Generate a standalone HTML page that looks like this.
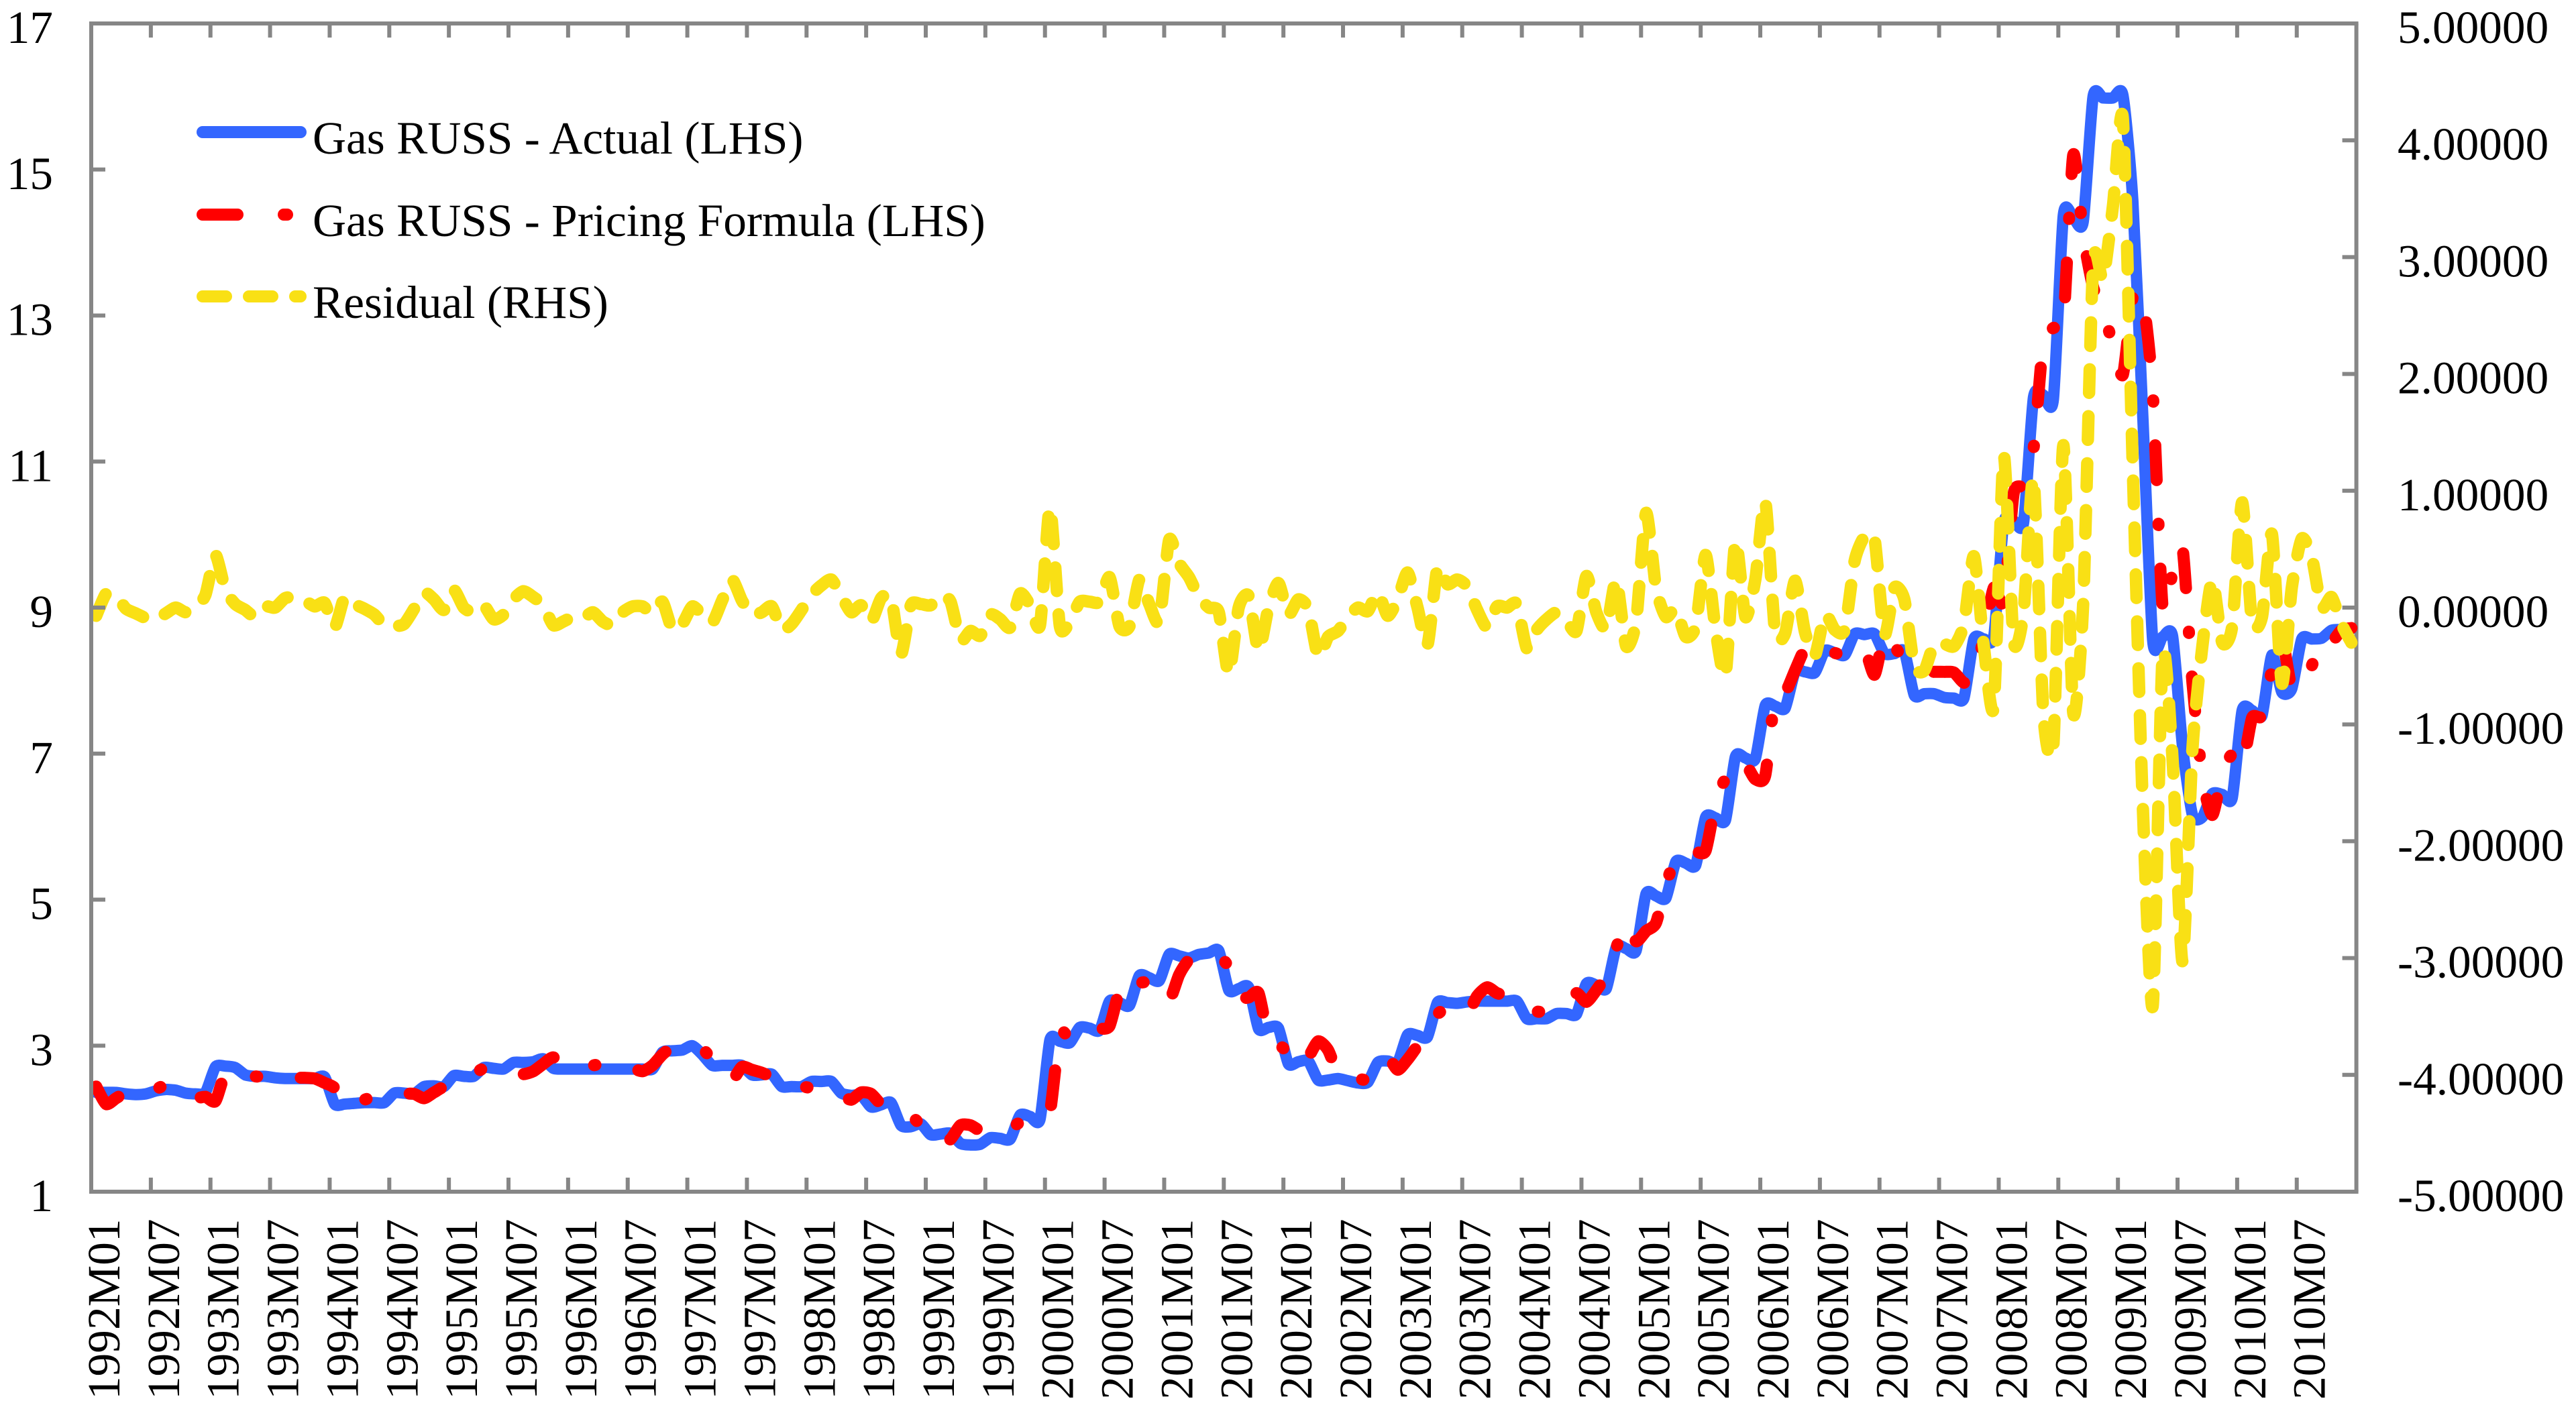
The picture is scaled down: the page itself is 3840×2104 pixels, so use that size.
<!DOCTYPE html>
<html lang="en">
<head>
<meta charset="utf-8">
<title>Gas RUSS - Actual vs Pricing Formula</title>
<style>
html,body{margin:0;padding:0;background:#fff;}
svg{display:block;}
text{font-family:"Liberation Serif",serif;font-size:69.3px;fill:#000;}
</style>
</head>
<body>
<svg id="chart" xmlns="http://www.w3.org/2000/svg" width="3840" height="2104" viewBox="0 0 3840 2104">
  <rect x="0" y="0" width="3840" height="2104" fill="#ffffff"/>
  <g id="right-axis"></g>
  <g id="series"></g>
  <g id="left-axis"></g>
  <g id="x-axis"></g>
  <g id="legend">
    <g>
      <line x1="302" y1="197" x2="448" y2="197" stroke="#3366ff" stroke-width="18" stroke-linecap="round"/>
      <text x="466" y="229">Gas RUSS - Actual (LHS)</text>
    </g>
    <g>
      <line x1="302" y1="320" x2="430" y2="320" stroke="#ff0000" stroke-width="18" stroke-linecap="round" stroke-dasharray="52 69 5 100"/>
      <text x="466" y="352">Gas RUSS - Pricing Formula (LHS)</text>
    </g>
    <g>
      <line x1="302" y1="442" x2="448" y2="442" stroke="#f9e015" stroke-width="18" stroke-linecap="round" stroke-dasharray="35 34"/>
      <text x="466" y="474">Residual (RHS)</text>
    </g>
  </g>
</svg>
<script>
const tickLabels = ["1992M01","1992M07","1993M01","1993M07","1994M01","1994M07","1995M01","1995M07","1996M01","1996M07","1997M01","1997M07","1998M01","1998M07","1999M01","1999M07","2000M01","2000M07","2001M01","2001M07","2002M01","2002M07","2003M01","2003M07","2004M01","2004M07","2005M01","2005M07","2006M01","2006M07","2007M01","2007M07","2008M01","2008M07","2009M01","2009M07","2010M01","2010M07"];
const leftTickLabels = ["1","3","5","7","9","11","13","15","17"];
const rightTickLabels = ["-5.00000","-4.00000","-3.00000","-2.00000","-1.00000","0.00000","1.00000","2.00000","3.00000","4.00000","5.00000"];

const actualSeries = [
2.36,2.36,2.36,2.34,2.33,2.34,2.38,2.40,2.39,2.35,2.34,2.36,
2.71,2.72,2.70,2.60,2.58,2.58,2.56,2.55,2.55,2.55,2.55,2.57,
2.20,2.20,2.21,2.22,2.22,2.22,2.35,2.35,2.34,2.44,2.45,2.44,
2.59,2.58,2.58,2.70,2.69,2.68,2.77,2.77,2.78,2.82,2.69,2.68,
2.68,2.68,2.68,2.68,2.68,2.68,2.68,2.68,2.68,2.91,2.93,2.94,
3.00,2.88,2.73,2.73,2.73,2.73,2.60,2.60,2.61,2.44,2.44,2.44,
2.51,2.51,2.51,2.35,2.32,2.32,2.16,2.19,2.22,1.91,1.89,1.93,
1.78,1.79,1.80,1.66,1.64,1.65,1.74,1.73,1.72,2.05,2.03,1.99,
3.08,3.06,3.04,3.25,3.24,3.21,3.61,3.59,3.55,3.96,3.93,3.89,
4.25,4.23,4.20,4.25,4.27,4.30,3.76,3.78,3.80,3.23,3.25,3.24,
2.75,2.78,2.79,2.53,2.53,2.55,2.52,2.49,2.50,2.77,2.79,2.77,
3.15,3.14,3.12,3.59,3.59,3.58,3.60,3.61,3.61,3.61,3.61,3.61,
3.37,3.37,3.37,3.44,3.44,3.43,3.85,3.83,3.78,4.35,4.33,4.30,
5.08,5.05,5.02,5.52,5.50,5.47,6.13,6.12,6.09,6.96,6.94,6.93,
7.66,7.65,7.62,8.12,8.12,8.11,8.41,8.38,8.35,8.64,8.63,8.64,
8.37,8.37,8.40,7.80,7.82,7.82,7.77,7.76,7.76,8.57,8.57,8.60,
10.16,10.19,10.16,11.88,11.91,11.85,14.37,14.34,14.28,16.00,15.98,15.98,
16.02,14.57,11.63,8.55,8.60,8.61,7.10,6.16,6.13,6.45,6.44,6.39,
7.59,7.59,7.52,8.35,7.84,7.89,8.57,8.57,8.58,8.69,8.70,8.71];

const formulaSeries = [
2.44,2.20,2.28,2.36,2.35,2.34,2.40,2.46,2.38,2.32,
2.28,2.30,2.24,2.63,2.65,2.61,2.58,2.57,2.57,2.56,
2.56,2.56,2.55,2.49,2.42,2.18,2.20,2.26,2.30,2.30,
2.32,2.34,2.34,2.28,2.36,2.44,2.49,2.53,2.61,2.69,
2.68,2.68,2.65,2.61,2.65,2.75,2.84,2.73,2.71,2.71,
2.73,2.75,2.73,2.71,2.69,2.65,2.73,2.88,2.98,2.96,
2.96,2.96,2.81,2.69,2.53,2.71,2.67,2.63,2.57,2.49,
2.44,2.44,2.42,2.40,2.38,2.32,2.26,2.36,2.34,2.20,
2.18,2.13,2.05,1.91,1.78,1.66,1.72,1.91,1.91,1.83,
1.78,1.83,1.87,1.95,1.99,2.03,2.09,3.17,3.08,3.10,
3.19,3.23,3.27,3.74,3.64,3.85,3.87,3.85,3.62,3.97,
4.18,4.24,4.26,4.24,4.07,3.68,3.66,3.72,3.10,3.02,
2.90,2.71,2.84,3.06,2.94,2.61,2.55,2.55,2.53,2.65,
2.84,2.67,2.81,3.00,3.23,3.43,3.52,3.52,3.43,3.68,
3.80,3.72,3.68,3.64,3.58,3.47,3.47,3.50,3.58,3.72,
3.60,3.76,3.97,4.34,4.68,4.43,4.57,4.68,5.20,5.58,
5.69,5.66,5.67,6.33,6.65,6.58,6.84,6.65,6.70,7.79,
7.83,8.14,8.44,8.54,8.47,8.38,8.35,8.35,8.44,8.08,
8.63,8.47,8.29,8.23,8.12,8.12,8.12,8.11,7.97,8.02,
8.60,9.27,9.08,10.56,10.68,11.17,12.65,12.83,12.90,15.20,
14.10,13.39,13.08,12.59,12.19,13.26,13.23,11.97,9.00,9.48,
9.82,7.97,6.67,6.16,6.73,6.99,6.82,7.49,7.52,8.14,
8.57,7.89,7.98,8.20,8.57,8.53,8.69,8.72];

const residualSeries = [
-0.07,0.12,0.10,-0.01,-0.05,-0.09,-0.10,-0.05,0.00,-0.04,
0.00,0.11,0.45,0.15,0.03,-0.02,-0.08,0.01,0.00,0.08,
0.09,0.06,0.01,0.04,-0.17,0.09,0.03,-0.01,-0.06,-0.15,
-0.16,-0.14,-0.01,0.13,0.07,-0.02,0.15,0.00,-0.04,0.02,
-0.10,-0.06,0.07,0.14,0.09,0.02,-0.15,-0.12,-0.08,-0.09,
-0.04,-0.12,-0.15,-0.04,0.01,0.01,-0.05,0.05,-0.19,-0.14,
0.01,-0.06,-0.13,0.06,0.24,0.06,-0.06,-0.04,0.01,-0.19,
-0.14,-0.02,0.11,0.19,0.24,0.10,-0.04,0.02,-0.12,0.08,
0.09,-0.40,0.02,0.03,0.02,0.11,0.05,-0.28,-0.20,-0.24,
-0.06,-0.10,-0.17,0.12,0.02,-0.15,0.86,-0.16,-0.12,0.05,
0.05,0.05,0.26,-0.16,-0.16,0.24,0.03,-0.12,0.58,0.38,
0.26,0.09,0.00,-0.04,-0.57,0.00,0.10,-0.37,0.00,0.21,
-0.06,0.07,-0.01,-0.42,-0.25,-0.20,-0.08,0.00,-0.03,0.13,
-0.07,0.07,0.30,0.00,-0.32,0.34,0.20,0.24,0.18,-0.02,
-0.17,0.01,0.00,0.03,-0.35,-0.19,-0.10,-0.04,-0.11,-0.20,
0.27,-0.04,-0.18,0.24,-0.33,-0.12,0.81,0.17,-0.08,-0.01,
-0.25,-0.16,0.45,-0.19,-0.58,0.57,-0.08,0.24,0.91,-0.22,
-0.22,0.23,-0.21,-0.41,-0.06,-0.19,-0.19,0.40,0.61,0.59,
-0.23,0.17,0.07,-0.50,-0.54,-0.31,-0.31,-0.33,-0.14,0.44,
-0.33,-0.85,1.30,-0.29,-0.04,1.11,-0.92,-1.18,1.39,-0.90,
0.03,2.94,2.81,3.44,4.18,1.18,-1.69,-3.41,-0.40,-1.30,
-3.03,-1.21,-0.33,0.24,-0.30,-0.16,0.90,-0.13,-0.08,0.63,
-0.65,0.17,0.59,0.44,0.00,0.09,-0.14,-0.30];

const svgNS = "http://www.w3.org/2000/svg";
const plotLeft = 136, plotRight = 3512.6, plotTop = 35, plotBottom = 1777;
const monthWidth = (plotRight - plotLeft) / 228;
const monthsPerTick = 6;
const smoothing = 0.11;

function xAt(i){ return plotLeft + (i + 0.5) * monthWidth; }
function xEdge(i){ return plotLeft + i * monthWidth; }
function yLeft(v){ return plotBottom - (v - 1) / 16 * (plotBottom - plotTop); }
function yRight(v){ return plotBottom - (v + 5) / 10 * (plotBottom - plotTop); }

function make(tag, attrs){
  const el = document.createElementNS(svgNS, tag);
  for (const k in attrs) el.setAttribute(k, attrs[k]);
  return el;
}

function smoothPath(values, yFn){
  const p = values.map((v, i) => [xAt(i), yFn(v)]);
  let d = "M" + p[0][0].toFixed(2) + " " + p[0][1].toFixed(2);
  for (let i = 0; i < p.length - 1; i++){
    const a = p[Math.max(i - 1, 0)], b = p[i], c = p[i + 1], e = p[Math.min(i + 2, p.length - 1)];
    const c1x = b[0] + (c[0] - a[0]) * smoothing, c1y = b[1] + (c[1] - a[1]) * smoothing;
    const c2x = c[0] - (e[0] - b[0]) * smoothing, c2y = c[1] - (e[1] - b[1]) * smoothing;
    d += "C" + c1x.toFixed(2) + " " + c1y.toFixed(2) + " " + c2x.toFixed(2) + " " + c2y.toFixed(2) + " " + c[0].toFixed(2) + " " + c[1].toFixed(2);
  }
  return d;
}

const axisColor = "#868686";
const axisWidth = 6;
const tickLength = 21;

const rightAxisGroup = document.getElementById("right-axis");
const leftAxisGroup = document.getElementById("left-axis");
const xAxisGroup = document.getElementById("x-axis");
const seriesGroup = document.getElementById("series");

/* right axis */
const rightLine = make("line", {x1: plotRight, y1: plotTop, x2: plotRight, y2: plotBottom, stroke: axisColor, "stroke-width": axisWidth});


rightAxisGroup.appendChild(rightLine);
rightTickLabels.forEach(label => {
  const y = yRight(parseFloat(label));
  const tick = make("line", {x1: plotRight - tickLength, y1: y, x2: plotRight, y2: y, stroke: axisColor, "stroke-width": axisWidth});
  
  
  rightAxisGroup.appendChild(tick);
  const text = make("text", {x: 3574, y: y + 29});
  
  
  text.textContent = label;
  rightAxisGroup.appendChild(text);
});

/* series */
const actualLine = make("path", {d: smoothPath(actualSeries, yLeft), fill: "none", stroke: "#3366ff", "stroke-width": 17, "stroke-linejoin": "round", "stroke-linecap": "round"});


seriesGroup.appendChild(actualLine);

const formulaLine = make("path", {d: smoothPath(formulaSeries, yLeft), fill: "none", stroke: "#ff0000", "stroke-width": 18, "stroke-linejoin": "round", "stroke-linecap": "round", "stroke-dasharray": "52 65 2 65"});


seriesGroup.appendChild(formulaLine);

const residualLine = make("path", {d: smoothPath(residualSeries, yRight), fill: "none", stroke: "#f9e015", "stroke-width": 18.5, "stroke-linejoin": "round", "stroke-linecap": "round", "stroke-dasharray": "35 35"});


seriesGroup.appendChild(residualLine);

/* left axis */
const leftLine = make("line", {x1: plotLeft, y1: plotTop - 3, x2: plotLeft, y2: plotBottom + 3, stroke: axisColor, "stroke-width": axisWidth});


leftAxisGroup.appendChild(leftLine);
leftTickLabels.forEach(label => {
  const y = yLeft(parseFloat(label));
  const tick = make("line", {x1: plotLeft, y1: y, x2: plotLeft + tickLength, y2: y, stroke: axisColor, "stroke-width": axisWidth});
  
  
  leftAxisGroup.appendChild(tick);
  const text = make("text", {x: 79, y: y + 29, "text-anchor": "end"});
  
  
  text.textContent = label;
  leftAxisGroup.appendChild(text);
});

/* x axis */
const bottomLine = make("line", {x1: plotLeft - 3, y1: plotBottom, x2: plotRight + 3, y2: plotBottom, stroke: axisColor, "stroke-width": axisWidth});


xAxisGroup.appendChild(bottomLine);
const topLine = make("line", {x1: plotLeft - 3, y1: plotTop, x2: plotRight + 3, y2: plotTop, stroke: axisColor, "stroke-width": axisWidth});


xAxisGroup.appendChild(topLine);

tickLabels.forEach((label, k) => {
  const month = k * monthsPerTick;
  if (k > 0) {
    const x = xEdge(month);
    const bottomTick = make("line", {x1: x, y1: plotBottom - tickLength, x2: x, y2: plotBottom, stroke: axisColor, "stroke-width": axisWidth});
    
    
    xAxisGroup.appendChild(bottomTick);
    const topTick = make("line", {x1: x, y1: plotTop, x2: x, y2: plotTop + tickLength, stroke: axisColor, "stroke-width": axisWidth});
    
    
    xAxisGroup.appendChild(topTick);
  }
  const lx = xEdge(month) + 42;
  const ly = 2087;
  const text = make("text", {x: lx, y: ly, transform: "rotate(-90 " + lx.toFixed(2) + " " + ly + ")"});
  
  
  text.textContent = label;
  xAxisGroup.appendChild(text);
});
</script>
</body>
</html>
